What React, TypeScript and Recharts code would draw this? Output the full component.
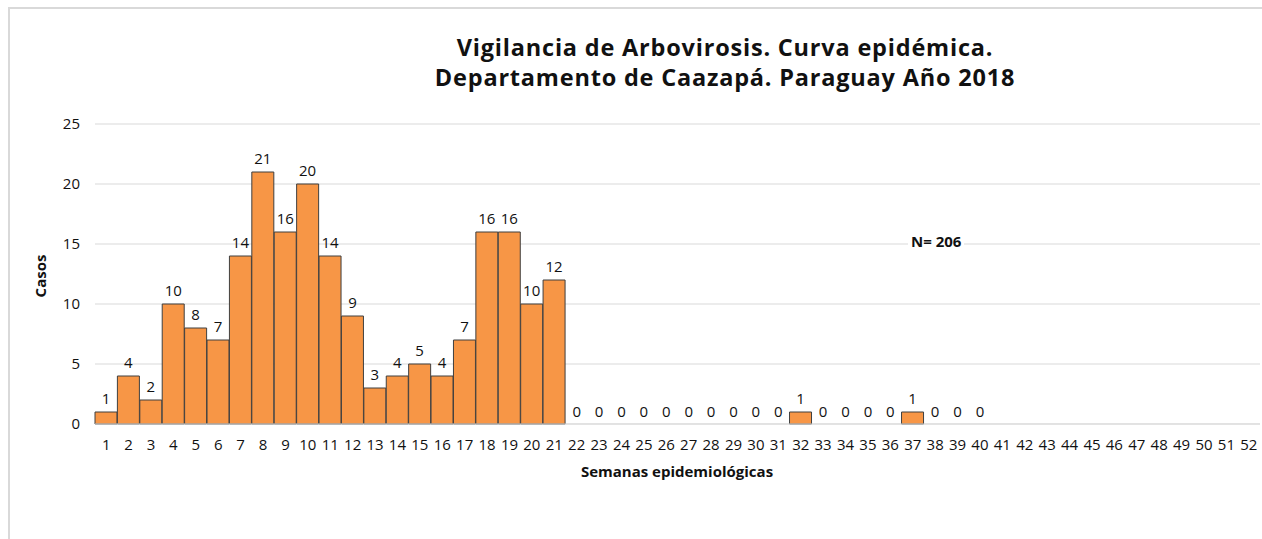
import React from "react"
import { Bar, ComposedChart, Line, CartesianGrid, XAxis, YAxis, LabelList } from "recharts"

// semanas epidemiológicas 1..52
const semanas: string[] = Array.from({ length: 52 }, (_, i) => String(i + 1))

// casos por semana (41-52 sin dato)
const casos: (number | null)[] = [
  1, 4, 2, 10, 8, 7, 14, 21, 16, 20,
  14, 9, 3, 4, 5, 4, 7, 16, 16, 10,
  12, 0, 0, 0, 0, 0, 0, 0, 0, 0,
  0, 1, 0, 0, 0, 0, 1, 0, 0, 0,
  null, null, null, null, null, null, null, null, null, null,
  null, null,
]

const yTicks = [0, 5, 10, 15, 20, 25]

const tituloLineas = [
  "Vigilancia de Arbovirosis. Curva epidémica.",
  "Departamento de Caazapá. Paraguay Año 2018",
]

const font = "'Open Sans', 'DejaVu Sans', sans-serif"
const ink = "#111"

export default function App() {
  // bars draw non-zero weeks; zero weeks still need their "0" label
  const chartData = semanas.map((s, i) => ({
    semana: s,
    casos: casos[i],
    ceros: casos[i] === 0 ? 0 : null,
  }))

  return (
    <div style={{ position: "absolute", left: 0, top: 0, width: 1262, height: 539, background: "#fff", fontFamily: font }}>
      <div
        style={{
          position: "absolute", left: 8, top: 7, right: 0, bottom: 0,
          borderLeft: "2px solid #d9d9d9", borderTop: "2px solid #d9d9d9",
        }}
      />
      {tituloLineas.map((t, i) => (
        <div
          key={i}
          style={{
            position: "absolute", left: 375, width: 700, top: 34 + i * 30, height: 26, textAlign: "center",
            fontSize: 23.5, fontWeight: 700, lineHeight: "26px", color: ink, letterSpacing: 0.8,
            whiteSpace: "nowrap",
          }}
        >
          {t}
        </div>
      ))}
      <ComposedChart
        width={1262}
        height={539}
        data={chartData}
        barCategoryGap={0}
        margin={{ top: 124, right: 2, bottom: 85, left: 55 }}
        style={{ position: "absolute", left: 0, top: 0 }}
      >
        <CartesianGrid vertical={false} stroke="#d9d9d9" />
        <XAxis
          dataKey="semana"
          interval={0}
          tickLine={false}
          tickSize={0}
          tickMargin={15}
          height={30}
          axisLine={{ stroke: "#d9d9d9" }}
          tick={{ fontSize: 15, fill: ink, fontFamily: font }}
        />
        <YAxis
          domain={[0, 25]}
          ticks={yTicks}
          width={40}
          axisLine={false}
          tickLine={false}
          tickSize={0}
          tickMargin={15}
          tick={{ fontSize: 15, fill: ink, fontFamily: font }}
        />
        <Bar dataKey="casos" fill="#f79646" stroke="#3f3f3f" strokeWidth={1} isAnimationActive={false}>
          <LabelList
            dataKey="casos"
            position="top"
            offset={8}
            formatter={(v: any) => (v == null || v === 0 ? "" : v)}
            style={{ fontSize: 15, fill: ink, fontFamily: font }}
          />
        </Bar>
        <Line
          dataKey="ceros"
          stroke="none"
          dot={false}
          activeDot={false}
          isAnimationActive={false}
          connectNulls={false}
        >
          <LabelList
            dataKey="ceros"
            position="top"
            offset={7}
            formatter={(v: any) => (v == null ? "" : v)}
            style={{ fontSize: 15, fill: ink, fontFamily: font }}
          />
        </Line>
      </ComposedChart>
      <div
        style={{
          position: "absolute", left: 10, top: 276, width: 60, textAlign: "center",
          transform: "translateY(-50%) rotate(-90deg)", fontSize: 15, fontWeight: 700, color: ink,
        }}
      >
        Casos
      </div>
      <div
        style={{
          position: "absolute", left: 507, width: 340, top: 461, textAlign: "center",
          fontSize: 15, fontWeight: 700, color: ink,
        }}
      >
        Semanas epidemiológicas
      </div>
      <div
        style={{
          position: "absolute", left: 908, top: 231, padding: "0 3px", background: "#fff",
          fontSize: 15, fontWeight: 700, color: ink,
        }}
      >
        N= 206
      </div>
    </div>
  )
}
